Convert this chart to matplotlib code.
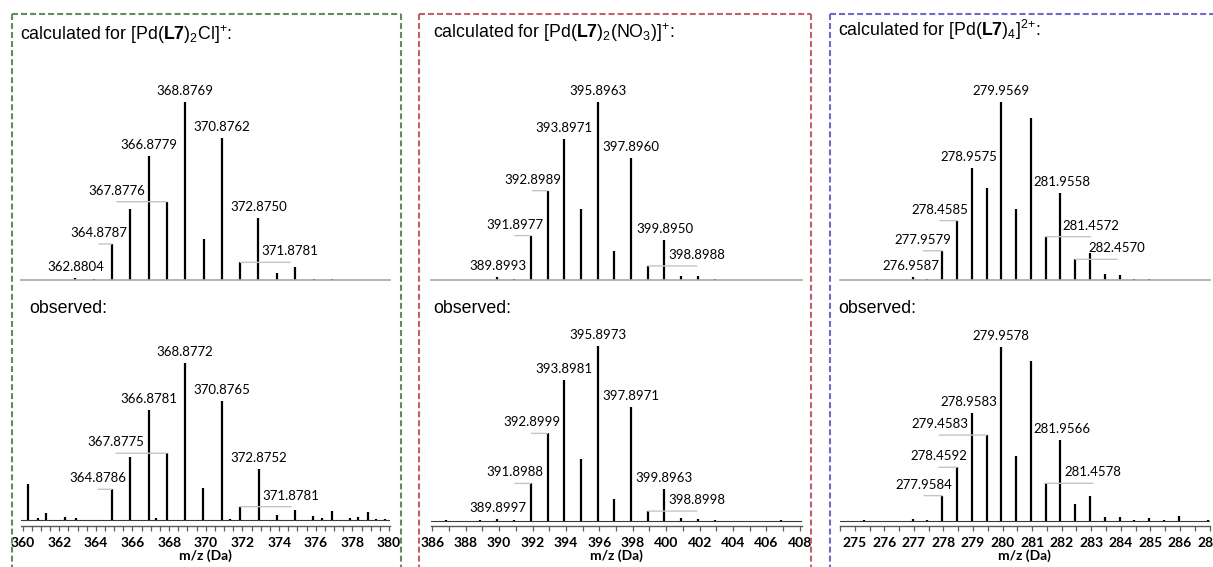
import numpy as np
import matplotlib
matplotlib.use('Agg')
import matplotlib.pyplot as plt
from matplotlib.lines import Line2D

plt.rcParams['mathtext.fontset'] = 'custom'
plt.rcParams['mathtext.rm'] = 'Liberation Sans'
plt.rcParams['mathtext.bf'] = 'Liberation Sans:bold'
plt.rcParams['mathtext.it'] = 'Liberation Sans:italic'
plt.rcParams['lines.scale_dashes'] = False

# ---------------- data ----------------
# Panel 1: [Pd(L7)2Cl]+
cl_calc_mz = [362.8804, 363.88, 364.8787, 365.88, 366.8779, 367.8776, 368.8769, 369.88,
              370.8762, 371.8781, 372.8750, 373.88, 374.88, 375.88, 376.88]
cl_calc_int = [1.3, 0.3, 20.2, 39.8, 69.5, 43.9, 100, 22.8, 79.4, 9.9, 34.6, 3.7, 7.5, 0.4, 0.4]
cl_calc_labels = [362.8804, 364.8787, 366.8779, 367.8776, 368.8769, 370.8762, 372.8750, 371.8781]

cl_obs_mz = [360.29, 360.84, 361.30, 362.29, 362.90, 364.8786, 365.88, 366.8781, 367.26, 367.8775,
             368.8772, 369.86, 370.8765, 371.30, 371.8781, 372.8752, 373.86, 374.86, 375.84,
             376.32, 376.86, 377.86, 378.30, 378.84, 379.30, 379.80]
cl_obs_int = [23.0, 1.0, 4.3, 1.7, 1.3, 19.6, 40.4, 70.2, 1.5, 42.6,
              100, 20.2, 76.2, 0.6, 8.5, 32.3, 3.0, 6.4, 2.6,
              1.3, 6.0, 1.5, 1.7, 4.9, 0.5, 0.5]
cl_obs_labels = [364.8786, 366.8781, 367.8775, 368.8772, 370.8765, 372.8752, 371.8781]

# Panel 2: [Pd(L7)2(NO3)]+
no3_calc_mz = [389.8993, 390.90, 391.8977, 392.8989, 393.8971, 394.90, 395.8963, 396.90,
               397.8960, 398.8988, 399.8950, 400.90, 401.90, 402.90]
no3_calc_int = [1.5, 0.4, 24.9, 50.1, 79.3, 39.6, 100, 16.4, 68.2, 7.9, 22.4, 2.2, 2.2, 0.3]
no3_calc_labels = [389.8993, 391.8977, 392.8989, 393.8971, 395.8963, 397.8960, 399.8950, 398.8988]

no3_obs_mz = [386.84, 388.84, 389.8997, 390.90, 391.8988, 392.8999, 393.8981, 394.90, 395.8973,
              396.90, 397.8971, 398.8998, 399.8963, 400.90, 401.90, 402.90, 406.90]
no3_obs_int = [0.4, 0.4, 1.0, 0.4, 21.3, 49.9, 80.4, 35.2, 100,
               12.2, 65.1, 5.5, 17.9, 1.3, 1.1, 0.4, 0.3]
no3_obs_labels = [389.8997, 391.8988, 392.8999, 393.8981, 395.8973, 397.8971, 399.8963, 398.8998]

# Panel 3: [Pd(L7)4]2+
l4_calc_mz = [276.9587, 277.46, 277.9579, 278.4585, 278.9575, 279.46, 279.9569, 280.46, 280.96,
              281.4572, 281.9558, 282.4570, 282.96, 283.46, 283.96, 284.46, 284.96]
l4_calc_int = [1.9, 0.7, 16.4, 33.3, 62.6, 51.4, 100, 39.8, 90.7,
               24.3, 49.0, 11.6, 15.0, 3.4, 2.6, 0.6, 0.4]
l4_calc_labels = [276.9587, 277.9579, 278.4585, 278.9575, 279.9569, 281.9558, 281.4572, 282.4570]

l4_obs_mz = [275.30, 276.98, 277.46, 277.9584, 278.4592, 278.9583, 279.4583, 279.9578, 280.46,
             280.96, 281.4578, 281.9566, 282.46, 282.96, 283.46, 283.96, 284.46, 284.96,
             285.46, 285.96, 286.96]
l4_obs_int = [0.3, 0.8, 0.3, 14.4, 30.7, 61.7, 49.2, 100, 37.2,
              92.0, 21.5, 46.4, 9.6, 14.2, 2.3, 1.9, 0.6, 1.7,
              0.3, 2.5, 0.4]
l4_obs_labels = [277.9584, 278.4592, 279.4583, 278.9583, 279.9578, 281.9566, 281.4578]

titles = [r'calculated for [Pd($\mathbf{L7}$)$_2$Cl]$^{+}$:',
          r'calculated for [Pd($\mathbf{L7}$)$_2$(NO$_3$)]$^{+}$:',
          r'calculated for [Pd($\mathbf{L7}$)$_4$]$^{2{+}}$:']
obs_title = 'observed:'
xlabel = 'm/z (Da)'

# ---------------- style / layout (pixels) ----------------
W, H = 1213, 567
fig = plt.figure(figsize=(W / 100, H / 100), dpi=100)

# label horizontal offsets in pixels (0 = centred above peak)
cl_calc_dx = [0, -13, 0, -50, 0, 0, 0, 50]
cl_obs_dx = [-14, 0, -51, 0, 0, 0, 51]
no3_calc_dx = [0, -16, -15, 0, 0, 0, 0, 49]
no3_obs_dx = [0, -16, -16, 0, 0, 0, 0, 49]
l4_calc_dx = [-2, -19, -17, -3, 0, 2, 45, 42]
l4_obs_dx = [-18, -18, -47, -3, 0, 2, 47]

panels = [
    dict(box=(12, 401), color='#5f8d5f', ax_x=(20.7, 390.0), xlim=(359.9, 380.05),
         major=2, minor=0.5, tstart=360, tend=380,
         calc=(cl_calc_mz, cl_calc_int, cl_calc_labels, cl_calc_dx),
         obs=(cl_obs_mz, cl_obs_int, cl_obs_labels, cl_obs_dx),
         obs_top=363.3, obs_base=520.0, title_x=20, obs_x=29, title_y=40),
    dict(box=(419, 810.7), color='#c2606d', ax_x=(431.0, 802.0), xlim=(385.92, 408.13),
         major=2, minor=1, tstart=386, tend=408,
         calc=(no3_calc_mz, no3_calc_int, no3_calc_labels, no3_calc_dx),
         obs=(no3_obs_mz, no3_obs_int, no3_obs_labels, no3_obs_dx),
         obs_top=345.7, obs_base=520.7, title_x=433, obs_x=433, title_y=38),
    dict(box=(830, 1230), color='#6b6bcc', ax_x=(840.0, 1209.5), xlim=(274.5, 287.0),
         major=1, minor=0.5, tstart=275, tend=287,
         calc=(l4_calc_mz, l4_calc_int, l4_calc_labels, l4_calc_dx),
         obs=(l4_obs_mz, l4_obs_int, l4_obs_labels, l4_obs_dx),
         obs_top=346.7, obs_base=520.7, title_x=838, obs_x=838, title_y=36),
]

CALC_TOP, CALC_BASE = 101.7, 280.0
SPINE_Y = 526.0
LABEL_FONT = 'Lato'
TITLE_SIZE = 12.8


def add_ax(x0, x1, ytop, ybot):
    return fig.add_axes([x0 / W, 1 - ybot / H, (x1 - x0) / W, (ybot - ytop) / H])


def draw_spectrum(ax, mz, inten, labels, dxs):
    ax.vlines(mz, 0, inten, color='black', lw=1.6)
    mz_arr = np.array(mz)
    for val, dx in zip(labels, dxs):
        i = int(np.argmin(np.abs(mz_arr - val)))
        h = inten[i]
        if abs(dx) > 6:
            ax.annotate('', xy=(mz[i], h), xycoords='data',
                        xytext=(dx, 0), textcoords='offset pixels',
                        annotation_clip=False,
                        arrowprops=dict(arrowstyle='-', color='#c4c4c4', lw=1.0,
                                        shrinkA=0, shrinkB=0))
        ax.annotate(f'{val:.4f}', xy=(mz[i], h), xytext=(dx, 7), textcoords='offset pixels',
                    ha='center', va='baseline', fontsize=9.5, family=LABEL_FONT,
                    annotation_clip=False)


for p, title in zip(panels, titles):
    x0, x1 = p['ax_x']
    # calculated (top)
    ax = add_ax(x0, x1, CALC_TOP, CALC_BASE)
    ax.set_xlim(*p['xlim'])
    ax.set_ylim(0, 100)
    for s in ['top', 'left', 'right']:
        ax.spines[s].set_visible(False)
    ax.spines['bottom'].set_color('#a8a8a8')
    ax.spines['bottom'].set_linewidth(1.2)
    ax.set_xticks([])
    ax.set_yticks([])
    ax.patch.set_alpha(0)
    draw_spectrum(ax, *p['calc'])

    # observed (bottom)
    top, base = p['obs_top'], p['obs_base']
    ax2 = add_ax(x0, x1, top, SPINE_Y)
    ax2.set_xlim(*p['xlim'])
    ymin = -(SPINE_Y - base) / (base - top) * 100
    ax2.set_ylim(ymin, 100)
    for s in ['top', 'left', 'right']:
        ax2.spines[s].set_visible(False)
    ax2.spines['bottom'].set_color('#5a5a5a')
    ax2.spines['bottom'].set_linewidth(1.0)
    ax2.set_yticks([])
    ax2.patch.set_alpha(0)
    ax2.axhline(0, color='#3a3a3a', lw=0.8)
    majors = np.arange(p['tstart'], p['tend'] + 0.001, p['major'])
    minors = np.arange(p['tstart'] - p['minor'] * int((p['tstart'] - p['xlim'][0]) / p['minor']),
                       p['xlim'][1] + 0.001, p['minor'])
    ax2.set_xticks(majors, [f'{m:g}' for m in majors], fontweight='bold',
                   fontfamily=LABEL_FONT, fontsize=10)
    ax2.set_xticks(minors, minor=True)
    ax2.tick_params(axis='x', which='both', direction='out', length=3.5, width=0.9,
                    color='#5a5a5a', pad=4.5)
    ax2.set_xlabel(xlabel, fontweight='bold', fontfamily=LABEL_FONT, fontsize=10, labelpad=0.5)
    draw_spectrum(ax2, *p['obs'])

    # titles
    fig.text(p['title_x'] / W, 1 - p['title_y'] / H, title, fontsize=TITLE_SIZE,
             family='Liberation Sans', va='baseline')
    fig.text(p['obs_x'] / W, 1 - 313 / H, obs_title, fontsize=TITLE_SIZE,
             family='Liberation Sans', va='baseline')

    # dashed box
    bx0, bx1 = p['box']
    c = p['color']
    kw = dict(transform=fig.transFigure, color=c, lw=1.5, dashes=(4.3, 2.2))
    fig.add_artist(Line2D([bx0 / W, bx0 / W], [1 - 14 / H, 0], **kw))
    fig.add_artist(Line2D([bx0 / W, min(bx1, 1250) / W], [1 - 14 / H, 1 - 14 / H], **kw))
    if bx1 < W:
        fig.add_artist(Line2D([bx1 / W, bx1 / W], [1 - 14 / H, 0], **kw))

fig.savefig('out.png', dpi=100)
